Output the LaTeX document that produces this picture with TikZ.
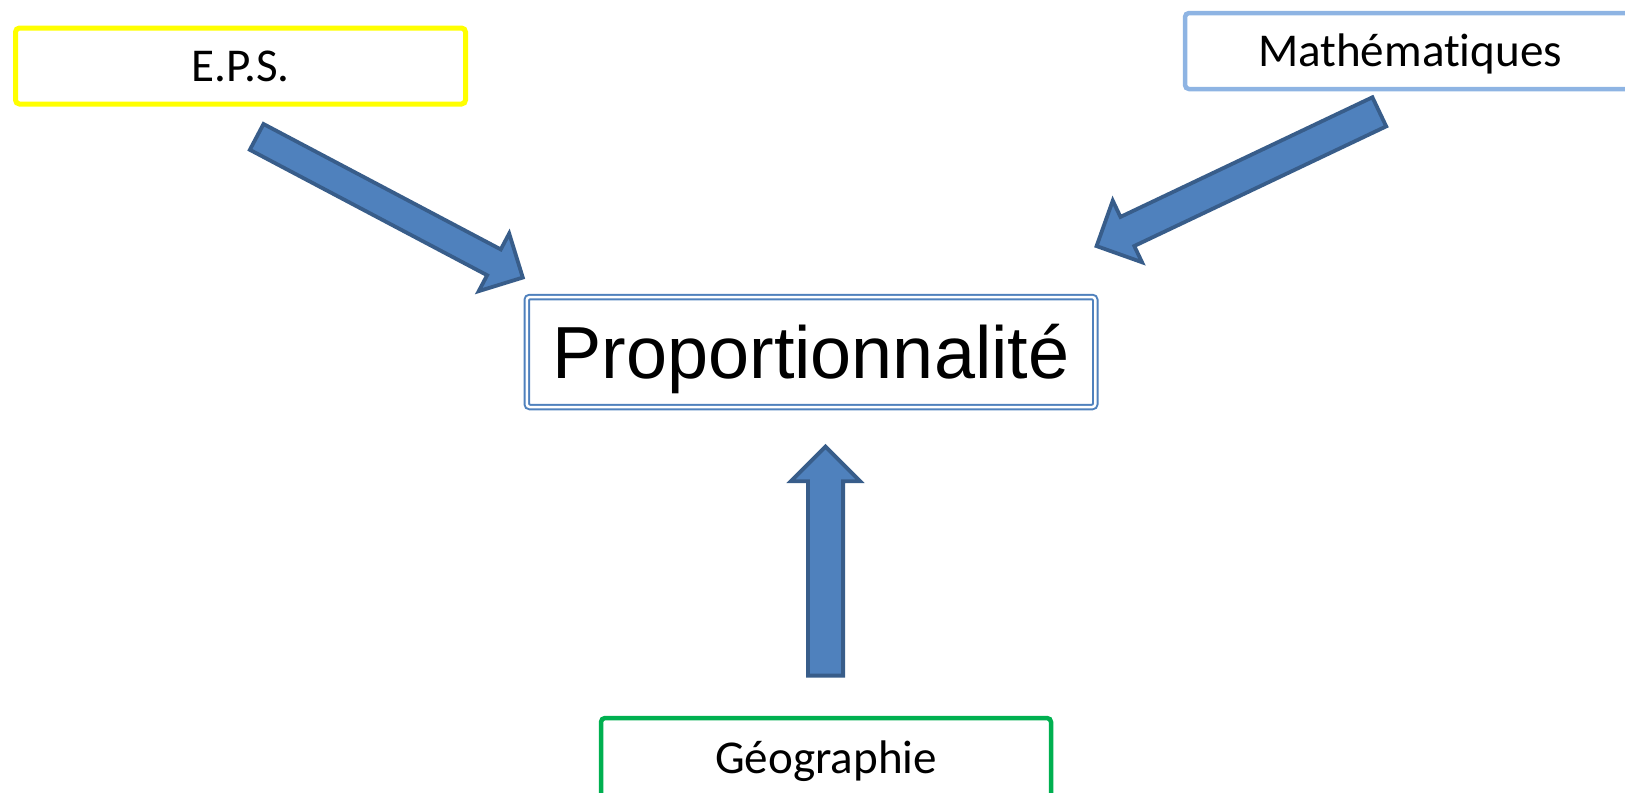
\documentclass[tikz,border=0pt]{standalone}
\usepackage{fontspec}
\setmainfont[Ligatures=NoCommon]{Carlito}
\newfontfamily\arialfont{Liberation Sans}
\usepackage{tikz}
\usetikzlibrary{shapes.arrows, positioning}

\definecolor{arrowfill}{HTML}{4F81BD}
\definecolor{arrowline}{HTML}{385D8A}
\definecolor{epsyellow}{HTML}{FFFF00}
\definecolor{mathblue}{HTML}{8EB4E3}
\definecolor{geogreen}{HTML}{00B050}
\definecolor{propblue}{HTML}{4F81BD}

\begin{document}
\begin{tikzpicture}[
        x=0.1mm, y=-0.1mm,
        subject/.style={rectangle, draw, rounded corners=0.4mm, line width=0.45mm, minimum width=45mm, minimum height=7.6mm, inner sep=0pt, text height=3mm, text depth=0pt, font=\fontsize{13.4}{16}\selectfont},
        theme/.style={rectangle, draw=propblue, double=white, line width=0.2mm, double distance=0.25mm, rounded corners=0.3mm, minimum width=56.85mm, minimum height=11mm, inner sep=0pt, text height=5.3mm, text depth=0pt, font=\arialfont\fontsize{21}{25}\selectfont},
        bigarrow/.style={single arrow, draw=arrowline, fill=arrowfill, line width=0.38mm, inner xsep=0pt, inner ysep=1.4mm, text height=0pt, text depth=0pt, single arrow head extend=1.8mm, anchor=tail}
    ]
        \useasboundingbox (0,0) rectangle (1625,792);

        % Subjects
        \node[subject, draw=epsyellow, line width=0.5mm] (eps) at (240.5,66) {E.P.S.};
        \node[subject, draw=mathblue] (maths) at (1410,51) {Mathématiques};
        \node[subject, draw=geogreen, minimum height=10mm, text depth=2mm] (geo) at (826,768) {Géographie};

        % Theme
        \node[theme] (prop) at (811,352) {Proportionnalité};

        % Block arrows (placed by their tails)
        \node[bigarrow, inner ysep=1.27mm, minimum height=30.1mm, rotate=-27.86] (arrEps) at (255,136) {};
        \node[bigarrow, inner ysep=1.42mm, minimum height=31.3mm, rotate=205.4] (arrMaths) at (1381,111) {};
        \node[bigarrow, inner ysep=1.57mm, minimum height=22.9mm, rotate=90, single arrow head extend=1.7mm] (arrGeo) at (825.5,677.5) {};

    \end{tikzpicture}
\end{document}
